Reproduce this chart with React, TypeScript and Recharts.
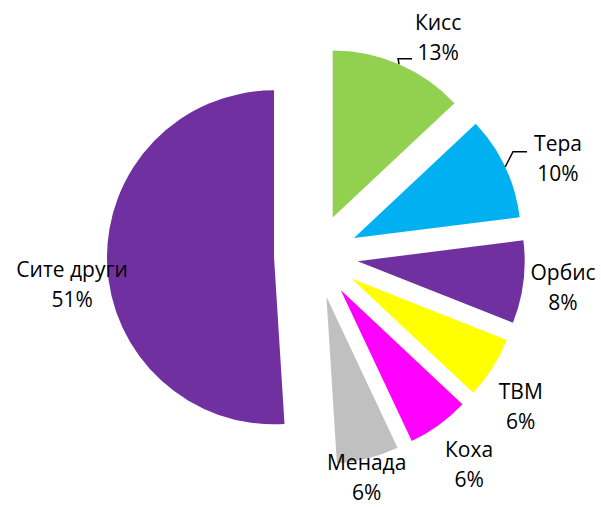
import { PieChart, Pie, Sector } from "recharts";

// market share, clockwise from 12 o'clock
const names = ["Кисс", "Тера", "Орбис", "ТВМ", "Коха", "Менада", "Сите други"];
const shares = [13, 10, 8, 6, 6, 6, 51];
const colors = ["#92D050", "#00B0F0", "#7030A0", "#FFFF00", "#FF00FF", "#C0C0C0", "#7030A0"];

const data = names.map((name, i) => ({ name, value: shares[i] }));

const RADIAN = Math.PI / 180;
const EXPLODE = 42;
const LABEL_R = 252;
// small hand nudges so labels sit where the original put them
const labelNudge = [
  [22, 12],
  [14, 9],
  [-3, -1],
  [-8, 15],
  [5, 4],
  [-12, -23],
  [8, 20],
];
// leader line end points, relative to label centre
const leaders: Record<number, [number, number]> = {
  0: [-26, 22],
  1: [-31, -6],
};

const polar = (cx: number, cy: number, r: number, angle: number) => ({
  x: cx + r * Math.cos(-angle * RADIAN),
  y: cy + r * Math.sin(-angle * RADIAN),
});

const renderSlice = (props: any) => {
  const { cx, cy, outerRadius, startAngle, endAngle, midAngle, index, percent } = props;
  const c = polar(cx, cy, EXPLODE, midAngle);
  const base = polar(cx, cy, LABEL_R, midAngle);
  const lx = base.x + labelNudge[index][0];
  const ly = base.y + labelNudge[index][1];
  const leader = leaders[index];
  let line = null;
  if (leader) {
    const start = polar(c.x, c.y, outerRadius, midAngle);
    const ex = lx + leader[0];
    const ey = ly + leader[1];
    line = (
      <polyline
        points={`${start.x},${start.y} ${ex - 14},${ey} ${ex},${ey}`}
        fill="none"
        stroke="#000"
        strokeWidth={1.5}
      />
    );
  }
  return (
    <g>
      <Sector
        cx={c.x}
        cy={c.y}
        innerRadius={0}
        outerRadius={outerRadius}
        startAngle={startAngle}
        endAngle={endAngle}
        fill={colors[index]}
        stroke="none"
      />
      {line}
      <text
        x={lx}
        y={ly}
        textAnchor="middle"
        fill="#000"
        fontSize={21}
        fontFamily="'Open Sans', sans-serif"
      >
        <tspan x={lx} y={ly - 15} dominantBaseline="central">
          {names[index]}
        </tspan>
        <tspan x={lx} y={ly + 15} dominantBaseline="central">
          {Math.round(percent * 100)}%
        </tspan>
      </text>
    </g>
  );
};

export default function App() {
  return (
    <div style={{ position: "absolute", left: 0, top: 0, width: 601, height: 507, background: "#fff" }}>
      <PieChart width={601} height={507} margin={{ top: 0, right: 0, bottom: 0, left: 0 }}>
        <Pie
          data={data}
          dataKey="value"
          nameKey="name"
          cx={316}
          cy={256}
          outerRadius={167}
          startAngle={90}
          endAngle={-270}
          fill="none"
          stroke="none"
          label={renderSlice}
          labelLine={false}
          isAnimationActive={false}
        />
      </PieChart>
    </div>
  );
}
